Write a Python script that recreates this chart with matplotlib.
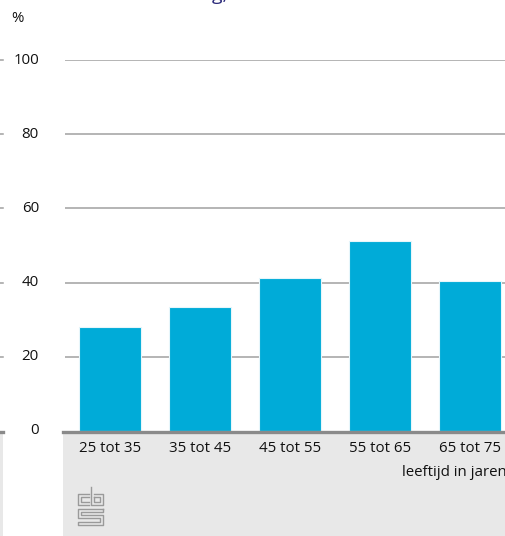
import matplotlib
matplotlib.use("Agg")
import matplotlib.pyplot as plt
from matplotlib.patches import Rectangle
from matplotlib.lines import Line2D

categories = ["25 tot 35", "35 tot 45", "45 tot 55", "55 tot 65", "65 tot 75"]
values = [28.0, 33.4, 41.2, 51.2, 40.4]
yticks = [0, 20, 40, 60, 80, 100]

W, H = 506, 536
plt.rcParams['font.family'] = ['Open Sans', 'DejaVu Sans']
FS = 10.8

fig = plt.figure(figsize=(W / 100, H / 100), dpi=100)

def fx(px):
    return px / W

def fy(py):
    return 1 - py / H

# grey footer panels
fig.patches.append(Rectangle((fx(63), 0), 1 - fx(63), fy(432), transform=fig.transFigure,
                             facecolor="#e8e8e8", edgecolor="none", zorder=-2))
fig.patches.append(Rectangle((0, 0), fx(3), fy(432), transform=fig.transFigure,
                             facecolor="#e8e8e8", edgecolor="none", zorder=-2))

ax = fig.add_axes([fx(65), fy(431), 450 / W, 371 / H])
ax.set_facecolor("none")
x = range(len(categories))
ax.bar(x, values, width=0.69, color="#00abd8", edgecolor="#e6f6fb", linewidth=0.8, zorder=3)
ax.set_xlim(-0.5, 4.5)
ax.set_ylim(0, 100)

for t in yticks[1:]:
    ax.axhline(t, color="#a0a0a0", linewidth=1.1, zorder=1)

for s in ax.spines.values():
    s.set_visible(False)
ax.set_yticks([])
ax.set_xticks(list(x))
ax.set_xticklabels(categories, fontsize=FS, color="#111111")
ax.tick_params(axis="x", length=0, pad=7)

# baseline
fig.add_artist(Line2D([fx(63), 1], [fy(431.5), fy(431.5)], color="#8a8a8a", linewidth=2.4))
fig.add_artist(Line2D([0, fx(3)], [fy(431.5), fy(431.5)], color="#8a8a8a", linewidth=2.4))

# y labels and small outer ticks
for t in yticks:
    py = 431 - t * 3.71
    fig.text(fx(39), fy(py), str(t), ha="right", va="center", fontsize=FS, color="#111111")
    if t > 0:
        fig.add_artist(Line2D([0, fx(3)], [fy(py), fy(py)], color="#a0a0a0", linewidth=1.1))

fig.text(fx(11), fy(19), "%", ha="left", va="center", fontsize=FS, color="#111111")
fig.text(fx(402), fy(472), "leeftijd in jaren", ha="left", va="center", fontsize=FS, color="#111111")

# title, cut off at the top edge
fig.text(fx(200), fy(-5), "ng,", ha="left", va="center", fontsize=14, color="#2b2a7a")

# cbs logo drawn as outline strokes
c = "#9a9a9a"
logo_paths = [
    [(89, 494), (78, 494), (78, 505), (89, 505)],
    [(89, 497), (81, 497), (81, 502), (89, 502)],
    [(91, 487), (91, 505), (103, 505), (103, 494), (94, 494)],
    [(94, 497), (100, 497), (100, 502), (94, 502), (94, 497)],
    [(103, 509), (78, 509), (78, 518), (100, 518), (100, 522), (78, 522), (78, 525),
     (103, 525), (103, 515), (81, 515), (81, 512), (103, 512), (103, 509)],
]
for path in logo_paths:
    fig.add_artist(Line2D([fx(p[0]) for p in path], [fy(p[1]) for p in path],
                          color=c, linewidth=1.0))

fig.savefig("out.png", dpi=100)
